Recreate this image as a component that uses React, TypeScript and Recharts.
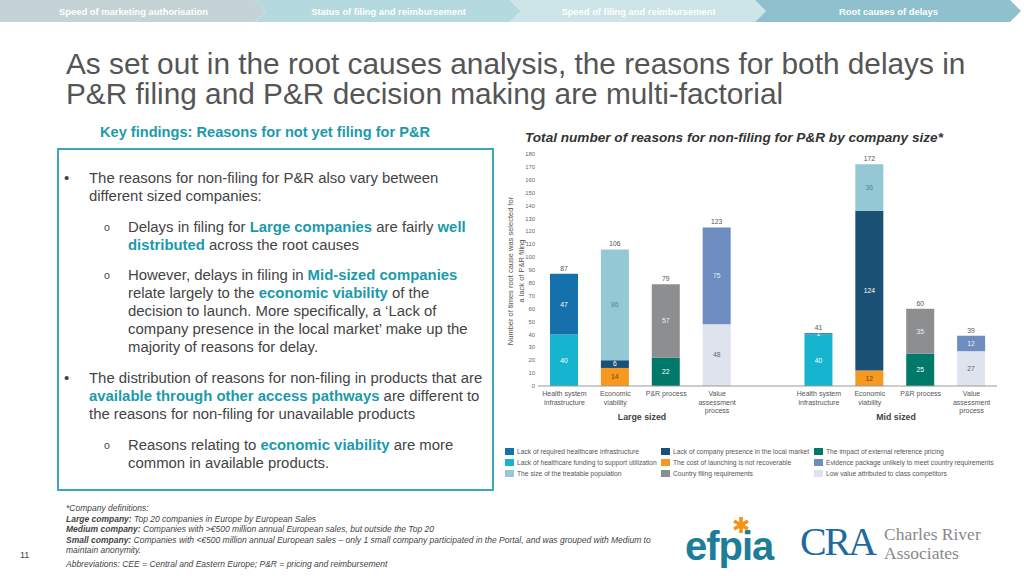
import { BarChart, Bar, XAxis, YAxis, LabelList } from 'recharts'

// categories and groups
const categories = ['Health system infrastructure', 'Economic viability', 'P&R process', 'Value assessment process']
const categoryLines = [['Health system', 'infrastructure'], ['Economic', 'viability'], ['P&R process'], ['Value', 'assessment', 'process']]
const groups = ['Large sized', 'Mid sized']

// values per group: [large, mid]
const lackFunding = [40, 40]
const lackInfrastructure = [47, 1]
const launchCost = [14, 12]
const companyPresence = [6, 124]
const treatablePopulation = [86, 36]
const externalPricing = [22, 25]
const filingRequirements = [57, 35]
const lowValue = [48, 27]
const evidencePackage = [75, 12]

const yTicks = [0, 10, 20, 30, 40, 50, 60, 70, 80, 90, 100, 110, 120, 130, 140, 150, 160, 170, 180]

type Series = { key: string; name: string; color: string; text: string; cat: number; values: number[] }

// declared bottom-to-top inside each category
const series: Series[] = [
  { key: 'funding', name: 'Lack of healthcare funding to support utilization', color: '#16b4cf', text: '#ffffff', cat: 0, values: lackFunding },
  { key: 'infra', name: 'Lack of required healthcare infrastructure', color: '#1570ab', text: '#ffffff', cat: 0, values: lackInfrastructure },
  { key: 'cost', name: 'The cost of launching is not recoverable', color: '#f7981f', text: '#6b4512', cat: 1, values: launchCost },
  { key: 'presence', name: 'Lack of company presence in the local market', color: '#1a5073', text: '#ffffff', cat: 1, values: companyPresence },
  { key: 'size', name: 'The size of the treatable population', color: '#93c8d4', text: '#5f8692', cat: 1, values: treatablePopulation },
  { key: 'erp', name: 'The impact of external reference pricing', color: '#00796b', text: '#ffffff', cat: 2, values: externalPricing },
  { key: 'filing', name: 'Country filing requirements', color: '#8d8e90', text: '#eeeeee', cat: 2, values: filingRequirements },
  { key: 'low', name: 'Low value attributed to class competitors', color: '#dfe3ed', text: '#666666', cat: 3, values: lowValue },
  { key: 'evidence', name: 'Evidence package unlikely to meet country requirements', color: '#6d8cbf', text: '#e9eef7', cat: 3, values: evidencePackage },
]

const legendOrder = ['infra', 'presence', 'erp', 'funding', 'cost', 'evidence', 'size', 'filing', 'low']

type Row = Record<string, any>
const rows: Row[] = []
groups.forEach((g, gi) => {
  if (gi > 0) {
    const gap: Row = { key: 'gap', lines: [], total: 0, top: '' }
    series.forEach((s) => (gap[s.key] = 0))
    rows.push(gap)
  }
  categories.forEach((c, ci) => {
    const row: Row = { key: `${g}-${c}`, lines: categoryLines[ci], total: 0, top: '' }
    series.forEach((s) => {
      const v = s.cat === ci ? s.values[gi] : 0
      row[s.key] = v
      row.total += v
      if (v > 0) row.top = s.key
    })
    rows.push(row)
  })
})

const font = '"Liberation Sans", Arial, sans-serif'

function makeLabel(s: Series) {
  // recharts skips zero-height bars in the label list, so map the label index
  // back onto the rows where this series is non-zero
  const nonZeroRows = rows.filter((r) => r[s.key] > 0)
  return (props: any) => {
    const { x, y, width, height, value, index } = props
    if (!value) return null
    const row = nonZeroRows[index]
    const cx = x + width / 2
    return (
      <g>
        <text x={cx} y={y + height / 2} dy={2.4} textAnchor="middle" fontSize={6.8} fill={s.text}>
          {value}
        </text>
        {row && row.top === s.key && (
          <text x={cx} y={y - 3} textAnchor="middle" fontSize={6.8} fill="#555">
            {row.total}
          </text>
        )}
      </g>
    )
  }
}

function CatTick(props: any) {
  const { x, y, index } = props
  const row = rows[index]
  if (!row) return null
  return (
    <text x={x} y={y} textAnchor="middle" fontSize={7} fill="#555">
      {row.lines.map((l: string, i: number) => (
        <tspan key={i} x={x} dy={i === 0 ? 2 : 8.5}>
          {l}
        </tspan>
      ))}
    </text>
  )
}

function Header() {
  const segs = [
    { x0: 0, x1: 255, fill: '#c4d3d6', label: 'Speed of marketing authorisation' },
    { x0: 255, x1: 510, fill: '#b4d9de', label: 'Status of filing and reimbursement' },
    { x0: 510, x1: 755, fill: '#cde4e9', label: 'Speed of filing and reimbursement' },
    { x0: 755, x1: 1010, fill: '#8ec1cd', label: 'Root causes of delays' },
  ]
  return (
    <svg width={1024} height={22} style={{ position: 'absolute', left: 0, top: 0 }}>
      {segs.map((s, i) => {
        const pts =
          i === 0
            ? `${s.x0},0 ${s.x1},0 ${s.x1 + 11},11 ${s.x1},22 ${s.x0},22`
            : `${s.x0},0 ${s.x1},0 ${s.x1 + 11},11 ${s.x1},22 ${s.x0},22 ${s.x0 + 11},11`
        return (
          <g key={i}>
            <polygon points={pts} fill={s.fill} />
            <text x={(s.x0 + s.x1) / 2 + 6} y={14.5} textAnchor="middle" fontSize={9.4} fontWeight="bold" fill="#fff" fontFamily={font}>
              {s.label}
            </text>
          </g>
        )
      })}
    </svg>
  )
}

const hl: React.CSSProperties = { color: '#1b9aab', fontWeight: 'bold' }

export default function App() {
  return (
    <div style={{ position: 'absolute', left: 0, top: 0, width: 1024, height: 576, background: '#fff', fontFamily: font, overflow: 'hidden' }}>
      <Header />

      <div style={{ position: 'absolute', left: 66, top: 49, fontSize: 29.8, lineHeight: '30px', color: '#555', whiteSpace: 'nowrap' }}>
        As set out in the root causes analysis, the reasons for both delays in
        <br />
        P&amp;R filing and P&amp;R decision making are multi-factorial
      </div>

      <div style={{ position: 'absolute', left: 100, top: 124, fontSize: 14.6, fontWeight: 'bold', color: '#1b9aab', whiteSpace: 'nowrap' }}>
        Key findings: Reasons for not yet filing for P&amp;R
      </div>

      <div style={{ position: 'absolute', left: 57, top: 148, width: 433, height: 339, border: '2px solid #3ba7b9' }} />

      <div style={{ position: 'absolute', left: 0, top: 0, fontSize: 14.9, lineHeight: '18px', color: '#444', whiteSpace: 'nowrap' }}>
        <div style={{ position: 'absolute', left: 64, top: 169 }}>•</div>
        <div style={{ position: 'absolute', left: 89, top: 169 }}>
          The reasons for non-filing for P&amp;R also vary between
          <br />
          different sized companies:
        </div>
        <div style={{ position: 'absolute', left: 104, top: 218, fontSize: 10.5 }}>o</div>
        <div style={{ position: 'absolute', left: 128, top: 218 }}>
          Delays in filing for <span style={hl}>Large companies</span> are fairly <span style={hl}>well</span>
          <br />
          <span style={hl}>distributed</span> across the root causes
        </div>
        <div style={{ position: 'absolute', left: 104, top: 266, fontSize: 10.5 }}>o</div>
        <div style={{ position: 'absolute', left: 128, top: 266 }}>
          However, delays in filing in <span style={hl}>Mid-sized companies</span>
          <br />
          relate largely to the <span style={hl}>economic viability</span> of the
          <br />
          decision to launch. More specifically, a ‘Lack of
          <br />
          company presence in the local market’ make up the
          <br />
          majority of reasons for delay.
        </div>
        <div style={{ position: 'absolute', left: 64, top: 369 }}>•</div>
        <div style={{ position: 'absolute', left: 89, top: 369 }}>
          The distribution of reasons for non-filing in products that are
          <br />
          <span style={hl}>available through other access pathways</span> are different to
          <br />
          the reasons for non-filing for unavailable products
        </div>
        <div style={{ position: 'absolute', left: 104, top: 436, fontSize: 10.5 }}>o</div>
        <div style={{ position: 'absolute', left: 128, top: 436 }}>
          Reasons relating to <span style={hl}>economic viability</span> are more
          <br />
          common in available products.
        </div>
      </div>

      <div style={{ position: 'absolute', left: 525, top: 130, fontSize: 13.6, fontWeight: 'bold', fontStyle: 'italic', color: '#333', whiteSpace: 'nowrap' }}>
        Total number of reasons for non-filing for P&amp;R by company size*
      </div>

      <div
        style={{
          position: 'absolute',
          left: 515.5,
          top: 271,
          transform: 'translate(-50%, -50%) rotate(-90deg)',
          fontSize: 7.5,
          lineHeight: '11px',
          color: '#555',
          textAlign: 'center',
          whiteSpace: 'nowrap',
        }}
      >
        Number of times root cause was selected for
        <br />a lack of P&amp;R filing
      </div>

      <div style={{ position: 'absolute', left: 490, top: 145 }}>
        <BarChart width={520} height={290} data={rows} margin={{ top: 9, right: 13, bottom: 0, left: 0 }} barSize={28} barCategoryGap={0}>
          <YAxis
            domain={[0, 180]}
            ticks={yTicks}
            interval={0}
            width={48}
            axisLine={false}
            tickLine={false}
            tickSize={0}
            tick={{ fontSize: 5.8, fill: '#666' }}
            tickMargin={3}
          />
          <XAxis
            dataKey="key"
            interval={0}
            height={49}
            tickLine={false}
            axisLine={{ stroke: '#999' }}
            padding={{ left: 1, right: 0 }}
            tick={<CatTick />}
          />
          {series.map((s) => (
            <Bar key={s.key} dataKey={s.key} name={s.name} stackId="a" fill={s.color} isAnimationActive={false}>
              <LabelList dataKey={s.key} content={makeLabel(s)} />
            </Bar>
          ))}
        </BarChart>
      </div>

      <div style={{ position: 'absolute', left: 600, top: 412, width: 84, textAlign: 'center', fontSize: 8.8, fontWeight: 'bold', color: '#444' }}>
        {groups[0]}
      </div>
      <div style={{ position: 'absolute', left: 854, top: 412, width: 84, textAlign: 'center', fontSize: 8.8, fontWeight: 'bold', color: '#444' }}>
        {groups[1]}
      </div>

      {legendOrder.map((k, i) => {
        const s = series.find((x) => x.key === k)!
        const col = i % 3
        const row = Math.floor(i / 3)
        const left = [505, 661, 814][col]
        return (
          <div key={k} style={{ position: 'absolute', left, top: 446 + row * 11, height: 10, display: 'flex', alignItems: 'center', whiteSpace: 'nowrap' }}>
            <div style={{ width: 9, height: 7, background: s.color, marginRight: 3 }} />
            <span style={{ fontSize: 6.7, color: '#555' }}>{s.name}</span>
          </div>
        )
      })}

      <div style={{ position: 'absolute', left: 66, top: 503, fontSize: 8.5, lineHeight: '10.5px', fontStyle: 'italic', color: '#444', whiteSpace: 'nowrap' }}>
        *Company definitions:
        <br />
        <b>Large company:</b> Top 20 companies in Europe by European Sales
        <br />
        <b>Medium company:</b> Companies with &gt;€500 million annual European sales, but outside the Top 20
        <br />
        <b>Small company:</b> Companies with &lt;€500 million annual European sales – only 1 small company participated in the Portal, and was grouped with Medium to
        <br />
        maintain anonymity.
        <div style={{ marginTop: 3 }}>Abbreviations: CEE = Central and Eastern Europe; P&amp;R = pricing and reimbursement</div>
      </div>

      <div style={{ position: 'absolute', left: 20, top: 550, fontSize: 9, color: '#444' }}>11</div>

      <div style={{ position: 'absolute', left: 685, top: 526, fontSize: 40, fontWeight: 'bold', color: '#1c7e99', letterSpacing: -1, lineHeight: '40px' }}>
        efpia
      </div>
      <svg width={20} height={20} style={{ position: 'absolute', left: 731, top: 515 }}>
        {[0, 60, 120].map((a) => (
          <line key={a} x1={10} y1={2} x2={10} y2={18} stroke="#f39318" strokeWidth={3.6} transform={`rotate(${a} 10 10)`} />
        ))}
      </svg>

      <div style={{ position: 'absolute', left: 800, top: 521, fontSize: 40, fontFamily: '"Liberation Serif", serif', color: '#1f6aa0', lineHeight: '42px', letterSpacing: -2.5, whiteSpace: 'nowrap' }}>
        CRA
      </div>
      <div style={{ position: 'absolute', left: 884, top: 526, fontSize: 17.5, fontFamily: '"Liberation Serif", serif', color: '#888', lineHeight: '17px', whiteSpace: 'nowrap' }}>
        Charles River
      </div>
      <div style={{ position: 'absolute', left: 884, top: 545, fontSize: 17.5, fontFamily: '"Liberation Serif", serif', color: '#888', lineHeight: '17px', whiteSpace: 'nowrap' }}>
        Associates
      </div>
    </div>
  )
}
